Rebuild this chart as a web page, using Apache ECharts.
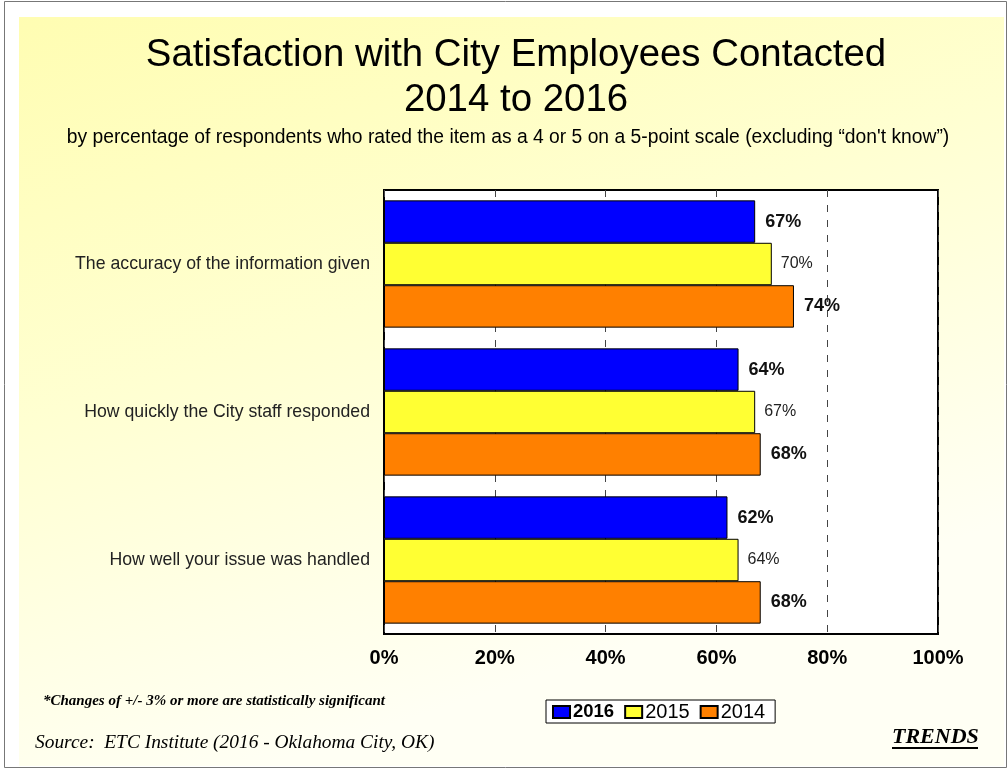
<!DOCTYPE html>
<html>
<head>
<meta charset="utf-8">
<script src="https://cdn.jsdelivr.net/npm/echarts@6/dist/echarts.min.js"></script>
<style>
  html, body { margin: 0; padding: 0; background: #ffffff; }
  #chart { width: 1007px; height: 771px; }
</style>
</head>
<body>
<div id="chart"></div>
<script>
// Survey items, top to bottom
const categories = [
  'The accuracy of the information given',
  'How quickly the City staff responded',
  'How well your issue was handled'
];
// Percent rating 4 or 5, per year
const values2016 = [67, 64, 62];
const values2015 = [70, 67, 64];
const values2014 = [74, 68, 68];
const xTicks = [0, 20, 40, 60, 80, 100];

const chart = echarts.init(document.getElementById('chart'), null, { renderer: 'canvas' });

const SANS = 'Liberation Sans, Arial, sans-serif';
const boldLabel = {
  show: true, position: 'right', distance: 10,
  formatter: '{c}%', fontFamily: SANS,
  fontSize: 18, fontWeight: 'bold', color: '#111'
};
const plainLabel = {
  show: true, position: 'right', distance: 9,
  formatter: '{c}%', fontFamily: SANS,
  fontSize: 16, fontWeight: 'normal', color: '#222'
};

function barSeries(name, data, color, label) {
  return {
    name: name, type: 'bar', data: data,
    barGap: '0%', barCategoryGap: '14%',
    itemStyle: { color: color, borderColor: '#000', borderWidth: 1 },
    label: label,
    emphasis: { disabled: true }
  };
}

chart.setOption({
  animation: false,
  textStyle: { fontFamily: SANS },
  graphic: [
    // page frame
    { type: 'rect', z: -10, silent: true,
      shape: { x: 4.5, y: 1.5, width: 1002, height: 766 },
      style: { fill: '#ffffff', stroke: '#777', lineWidth: 1 } },
    // tinted backdrop
    { type: 'rect', z: -9, silent: true,
      shape: { x: 19, y: 17, width: 985, height: 749 },
      style: { fill: new echarts.graphic.LinearGradient(0, 0, 0.25, 1, [
        { offset: 0, color: '#FFFDB2' },
        { offset: 0.5, color: '#FFFFD2' },
        { offset: 1, color: '#FFFFF4' }
      ]) } },
    { type: 'text', left: 43, top: 694,
      style: { text: '*Changes of +/- 3% or more are statistically significant',
        font: 'italic bold 15px "Liberation Serif", "Times New Roman", serif', fill: '#000' } },
    { type: 'text', left: 35, top: 733,
      style: { text: 'Source:  ETC Institute (2016 - Oklahoma City, OK)',
        font: 'italic 19.4px "Liberation Serif", "Times New Roman", serif', fill: '#000' } },
    { type: 'text', left: 892, top: 726,
      style: { text: 'TRENDS',
        font: 'italic bold 22px "Liberation Serif", "Times New Roman", serif', fill: '#000' } },
    { type: 'rect', silent: true, shape: { x: 892, y: 747, width: 86, height: 2 },
      style: { fill: '#000' } }
  ],
  title: [
    { text: 'Satisfaction with City Employees Contacted\n2014 to 2016',
      left: 511, top: 28, textAlign: 'center',
      textStyle: { fontSize: 38.4, fontWeight: 'normal', color: '#000', lineHeight: 45,
        fontFamily: SANS } },
    { text: 'by percentage of respondents who rated the item as a 4 or 5 on a 5-point scale (excluding \u201Cdon\'t know\u201D)',
      left: 503, top: 123, textAlign: 'center',
      textStyle: { fontSize: 19.3, fontWeight: 'normal', color: '#000', fontFamily: SANS } }
  ],
  legend: {
    left: 546, top: 700, orient: 'horizontal',
    backgroundColor: '#fff', borderColor: '#000', borderWidth: 1,
    padding: [2, 10, 1, 6], itemGap: 10, itemWidth: 17, itemHeight: 12,
    icon: 'rect', selectedMode: false,
    textStyle: { fontSize: 20, color: '#000', padding: [0, 0, 0, -2] },
    data: [
      { name: '2016', textStyle: { fontWeight: 'bold', fontSize: 18.5 } },
      { name: '2015' },
      { name: '2014' }
    ]
  },
  grid: {
    left: 384, top: 190, width: 554, height: 444,
    show: true, backgroundColor: '#ffffff', borderColor: '#000', borderWidth: 2
  },
  xAxis: {
    type: 'value', min: xTicks[0], max: xTicks[xTicks.length - 1], interval: 20,
    axisLine: { show: false }, axisTick: { show: false },
    axisLabel: { formatter: '{value}%', fontSize: 20, fontWeight: 'bold', color: '#000', margin: 14 },
    splitLine: { show: true, lineStyle: { color: '#444', type: [7, 8], width: 1 } }
  },
  yAxis: {
    type: 'category', data: categories, inverse: true,
    axisLine: { show: false }, axisTick: { show: false },
    axisLabel: { fontSize: 17.7, color: '#222', margin: 14 }
  },
  series: [
    barSeries('2016', values2016, '#0000FF', boldLabel),
    barSeries('2015', values2015, '#FFFF33', plainLabel),
    barSeries('2014', values2014, '#FF8000', boldLabel)
  ]
});
</script>
</body>
</html>
